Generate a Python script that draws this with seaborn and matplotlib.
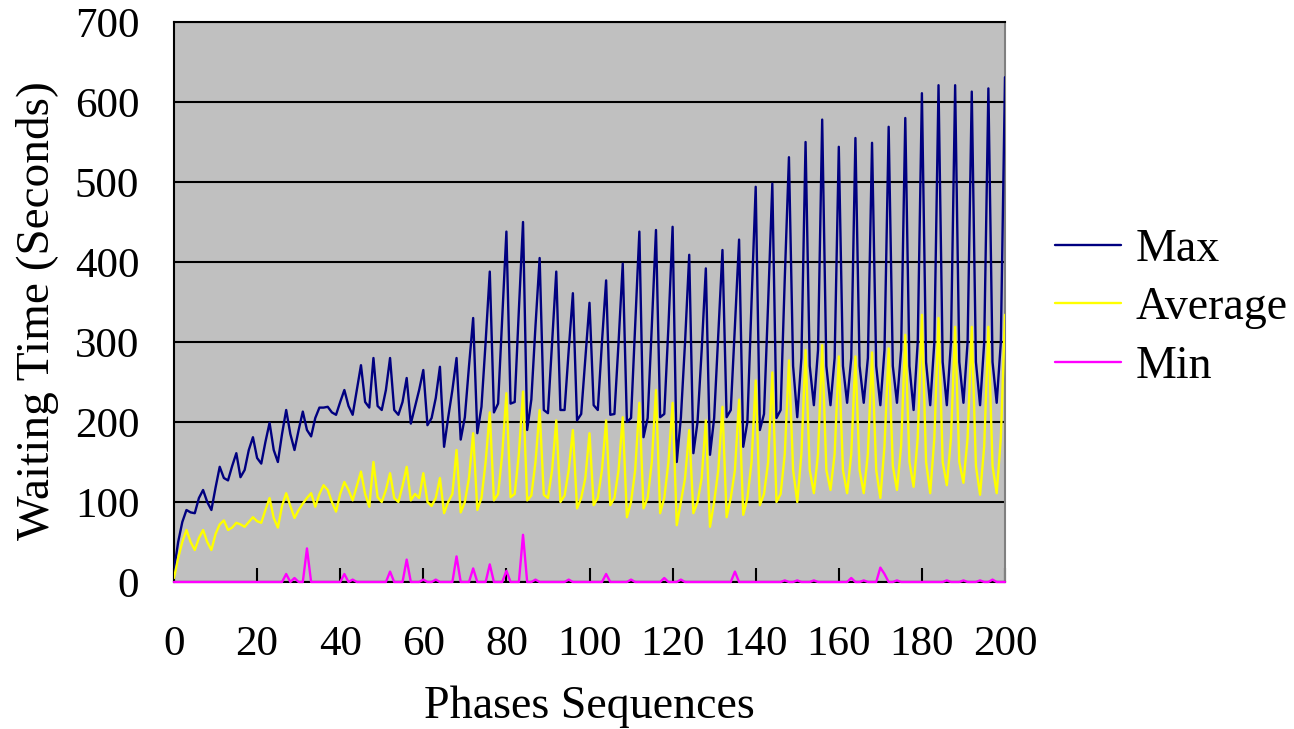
import matplotlib
matplotlib.use("Agg")
import matplotlib.pyplot as plt
import pandas as pd
import seaborn as sns

# ---------------- data ----------------
phases = list(range(201))

max_wait = [
    15, 50, 75, 90, 87, 86, 105, 115, 100, 90,
    118, 144, 130, 127, 145, 161, 131, 140, 165, 181,
    155, 148, 175, 199, 165, 150, 185, 215, 185, 165,
    190, 213, 190, 182, 205, 218, 218, 219, 212, 209,
    225, 240, 220, 209, 240, 271, 225, 218, 280, 220,
    215, 240, 280, 215, 209, 225, 255, 198, 219, 240,
    265, 196, 205, 230, 269, 169, 206, 240, 280, 178,
    206, 270, 330, 186, 219, 300, 388, 212, 223, 330,
    438, 223, 225, 340, 450, 190, 228, 320, 405, 215,
    211, 300, 388, 215, 215, 290, 361, 202, 210, 280,
    349, 221, 215, 300, 377, 209, 210, 300, 398, 200,
    205, 320, 438, 181, 205, 320, 440, 206, 210, 320,
    444, 150, 206, 300, 409, 161, 200, 290, 392, 159,
    205, 310, 415, 206, 215, 320, 428, 169, 200, 350,
    494, 190, 210, 350, 498, 205, 215, 380, 531, 270,
    206, 280, 550, 270, 221, 290, 578, 270, 221, 280,
    544, 270, 224, 280, 555, 270, 224, 280, 549, 270,
    221, 290, 569, 270, 224, 290, 580, 270, 215, 300,
    611, 275, 221, 300, 621, 275, 221, 300, 621, 275,
    224, 300, 613, 275, 221, 300, 617, 275, 224, 300,
    631,
]

avg_wait = [
    5, 30, 50, 65, 50, 40, 55, 65, 50, 40,
    60, 72, 77, 65, 68, 74, 72, 69, 75, 81,
    76, 74, 90, 105, 80, 68, 95, 111, 95, 80,
    90, 98, 105, 111, 94, 110, 121, 115, 100, 88,
    110, 125, 115, 102, 120, 138, 110, 94, 150, 106,
    100, 115, 136, 105, 100, 120, 144, 102, 110, 105,
    136, 100, 95, 105, 130, 86, 100, 110, 165, 87,
    100, 130, 186, 90, 105, 150, 212, 102, 110, 160,
    236, 106, 110, 160, 238, 102, 108, 150, 215, 109,
    105, 140, 202, 100, 108, 140, 190, 92, 105, 130,
    186, 96, 105, 140, 202, 96, 105, 140, 206, 81,
    100, 140, 224, 92, 105, 150, 240, 86, 105, 150,
    224, 71, 100, 130, 190, 86, 100, 130, 202, 69,
    100, 140, 219, 81, 105, 140, 228, 84, 105, 150,
    252, 96, 110, 150, 262, 100, 110, 160, 277, 140,
    100, 160, 290, 140, 111, 160, 296, 140, 115, 160,
    282, 140, 111, 160, 282, 140, 111, 160, 287, 140,
    105, 170, 292, 145, 115, 170, 309, 150, 119, 180,
    334, 150, 111, 180, 330, 150, 121, 180, 319, 150,
    124, 180, 319, 145, 109, 170, 319, 145, 111, 180,
    334,
]

# Min is 0 everywhere except these small spikes
min_spike_phase = [27, 29, 32, 41, 43, 52, 56, 60, 63, 68, 72, 76, 80, 84, 87,
                   95, 104, 110, 118, 122, 135, 147, 150, 154, 163, 166, 170,
                   171, 174, 186, 190, 194, 197]
min_spike_value = [10, 5, 42, 10, 3, 13, 28, 3, 3, 32, 17, 22, 14, 59, 3,
                   3, 10, 3, 5, 3, 13, 2, 2, 2, 5, 2, 18,
                   10, 2, 2, 2, 2, 3]
min_wait = [0] * len(phases)
for p, v in zip(min_spike_phase, min_spike_value):
    min_wait[p] = v

series_names = ["Max", "Average", "Min"]
series_colors = ["#000080", "#FFFF00", "#FF00FF"]
x_ticks = [0, 20, 40, 60, 80, 100, 120, 140, 160, 180, 200]
y_ticks = [0, 100, 200, 300, 400, 500, 600, 700]

df = pd.DataFrame({
    "phase": phases * 3,
    "value": max_wait + avg_wait + min_wait,
    "series": [series_names[0]] * len(phases)
              + [series_names[1]] * len(phases)
              + [series_names[2]] * len(phases),
})

# ---------------- style ----------------
sns.set_style("white")
plt.rcParams["font.family"] = ["Liberation Serif", "DejaVu Serif"]
plt.rcParams["text.color"] = "black"
plt.rcParams["axes.labelcolor"] = "black"
plt.rcParams["xtick.color"] = "black"
plt.rcParams["ytick.color"] = "black"

W, H = 1294, 729
fig = plt.figure(figsize=(W / 100, H / 100), dpi=100)
left, right, top, bottom = 174, 1005, 22, 582
ax = fig.add_axes([left / W, 1 - bottom / H, (right - left) / W, (bottom - top) / H])
ax.set_facecolor("#C0C0C0")

sns.lineplot(data=df, x="phase", y="value", hue="series",
             hue_order=series_names,
             palette=dict(zip(series_names, series_colors)),
             linewidth=1.7, ax=ax, legend=True)
ax.lines[2].set_clip_on(False)
for ln in ax.lines:
    ln.set_zorder(3)

ax.set_xlim(0, 200)
ax.set_ylim(0, 700)
ax.set_xticks(x_ticks)
ax.set_yticks(y_ticks)
ax.yaxis.grid(True, color="black", linewidth=1.5)
ax.xaxis.grid(False)
ax.set_axisbelow(True)

ax.tick_params(axis="x", bottom=True, top=False, direction="in", length=10,
               width=1.5, color="black", labelcolor="black", labelsize=31, pad=31)
ax.tick_params(axis="y", left=False, length=0, labelcolor="black",
               labelsize=31, pad=25)

for side in ["left", "top", "bottom"]:
    ax.spines[side].set_visible(True)
    ax.spines[side].set_color("black")
    ax.spines[side].set_linewidth(1.5)
ax.spines["right"].set_visible(True)
ax.spines["right"].set_color("#808080")
ax.spines["right"].set_linewidth(1.5)

ax.set_xlabel("Phases Sequences", fontsize=33, color="black")
ax.set_ylabel("Waiting Time (Seconds)", fontsize=34, color="black")
ax.xaxis.set_label_coords(0.5, -0.185)
ax.yaxis.set_label_coords(-0.138, 0.484)

handles, labels = ax.get_legend_handles_labels()
leg = ax.legend(handles, labels, loc="center left",
                bbox_to_anchor=(1055 / W, 1 - 308 / H), bbox_transform=fig.transFigure,
                frameon=False, fontsize=33, handlelength=1.45, handletextpad=0.3,
                labelspacing=0.35, borderpad=0, borderaxespad=0)
for t in leg.get_texts():
    t.set_color("black")

fig.savefig("out.png", dpi=100, facecolor="white")
